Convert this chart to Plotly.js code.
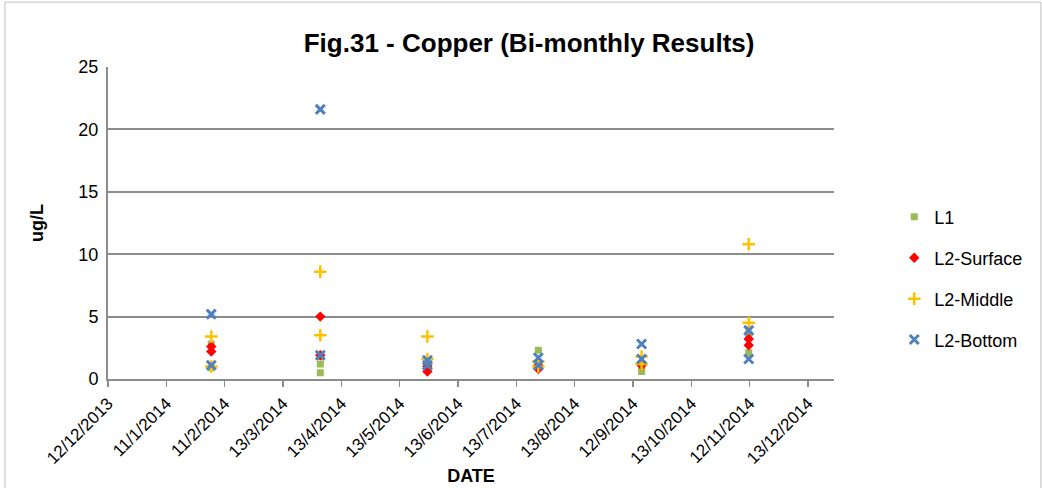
<!DOCTYPE html>
<html>
<head>
<meta charset="utf-8">
<script src="https://cdn.plot.ly/plotly-3.0.1.min.js"></script>
<style>html,body{margin:0;padding:0;background:#fff;}#chart{width:1042px;height:488px;}</style>
</head>
<body>
<div id="chart"></div>
<script>
// ---- data ----
const l1Dates = ['2014-02-04','2014-02-04','2014-04-02','2014-04-02','2014-04-02','2014-05-28','2014-07-25','2014-09-17','2014-09-17','2014-11-12','2014-11-12'];
const l1Values = [2.8, 0.9, 1.8, 1.2, 0.5, 1.2, 2.3, 1.0, 0.6, 3.6, 2.1];

const surfDates = ['2014-02-04','2014-02-04','2014-04-02','2014-04-02','2014-05-28','2014-05-28','2014-07-25','2014-07-25','2014-09-17','2014-09-17','2014-11-12','2014-11-12'];
const surfValues = [2.6, 2.2, 5.0, 1.9, 1.0, 0.6, 1.1, 0.8, 1.3, 1.1, 3.2, 2.7];

const midDates = ['2014-02-04','2014-02-04','2014-04-02','2014-04-02','2014-05-28','2014-05-28','2014-07-25','2014-07-25','2014-09-17','2014-09-17','2014-11-12','2014-11-12'];
const midValues = [3.4, 1.0, 8.6, 3.5, 3.4, 1.6, 1.4, 1.0, 1.8, 1.2, 10.8, 4.5];

const botDates = ['2014-02-04','2014-02-04','2014-04-02','2014-04-02','2014-05-28','2014-05-28','2014-07-25','2014-07-25','2014-09-17','2014-09-17','2014-11-12','2014-11-12'];
const botValues = [5.2, 1.1, 21.6, 1.9, 1.5, 1.1, 1.7, 1.1, 2.8, 1.6, 3.9, 1.6];

const seriesNames = ['L1', 'L2-Surface', 'L2-Middle', 'L2-Bottom'];

const tickDates = ['2013-12-12','2014-01-11 12:00','2014-02-11','2014-03-13 12:00','2014-04-13','2014-05-13 12:00','2014-06-13','2014-07-13 12:00','2014-08-13','2014-09-12 12:00','2014-10-13','2014-11-12 12:00','2014-12-13'];
const tickLabels = ['12/12/2013','11/1/2014','11/2/2014','13/3/2014','13/4/2014','13/5/2014','13/6/2014','13/7/2014','13/8/2014','12/9/2014','13/10/2014','12/11/2014','13/12/2014'];
const xRange = ['2013-12-12', '2014-12-26 14:00'];

// ---- chart ----
const FONT = 'Liberation Sans, Arial, sans-serif';
const traces = [
  {x: l1Dates, y: l1Values, name: seriesNames[0], legendgroup: 'a', type: 'scatter', mode: 'markers',
   marker: {symbol: 'square', size: 7, color: '#9BBB59'}},
  {x: surfDates, y: surfValues, name: seriesNames[1], legendgroup: 'b', type: 'scatter', mode: 'markers',
   marker: {symbol: 'diamond', size: 8, color: '#FF0000'}},
  {x: midDates, y: midValues, name: seriesNames[2], legendgroup: 'c', type: 'scatter', mode: 'markers',
   marker: {symbol: 'cross-thin-open', size: 9, color: '#FFC000', line: {color: '#FFC000', width: 2.5}}},
  {x: botDates, y: botValues, name: seriesNames[3], legendgroup: 'd', type: 'scatter', mode: 'markers',
   marker: {symbol: 'x-thin-open', size: 9, color: '#4F81BD', line: {color: '#4F81BD', width: 3}}}
];

const layout = {
  width: 1042, height: 488,
  margin: {l: 108, r: 208, t: 67, b: 109},
  paper_bgcolor: '#ffffff', plot_bgcolor: '#ffffff',
  font: {family: FONT, size: 18, color: '#000000'},
  title: {text: '<b>Fig.31 - Copper (Bi-monthly Results)</b>', font: {family: FONT, size: 26, color: '#000'},
          x: 0.58, xref: 'paper', xanchor: 'center', y: 0.912, yref: 'container', yanchor: 'middle'},
  xaxis: {
    type: 'date', range: xRange, tickmode: 'array', tickvals: tickDates, ticktext: tickLabels,
    tickangle: -45, tickfont: {family: FONT, size: 17, color: '#000'},
    showgrid: false, zeroline: false, showline: true, linecolor: '#8c8c8c', linewidth: 2,
    ticks: 'outside', ticklen: 6, tickcolor: '#8c8c8c', tickwidth: 1.5,
    title: {text: '<b>DATE</b>', font: {family: FONT, size: 18, color: '#000'}, standoff: 2},
    automargin: false, fixedrange: true
  },
  yaxis: {
    range: [0, 25], tickmode: 'linear', tick0: 0, dtick: 5,
    tickfont: {family: FONT, size: 18, color: '#000'},
    showgrid: true, gridcolor: '#8c8c8c', gridwidth: 2,
    zeroline: false, showline: true, linecolor: '#8c8c8c', linewidth: 2,
    ticks: '', ticklabelstandoff: 4,
    title: {text: '<b>ug/L</b>', font: {family: FONT, size: 18, color: '#000'}, standoff: 30},
    automargin: false, fixedrange: true
  },
  legend: {
    x: 1.083, xanchor: 'left', y: 0.578, yanchor: 'top',
    font: {family: FONT, size: 18, color: '#000'},
    traceorder: 'grouped', tracegroupgap: 14.5, itemwidth: 30,
    bgcolor: 'rgba(0,0,0,0)'
  },
  shapes: [
    {type: 'rect', xref: 'paper', yref: 'paper', x0: -0.142, x1: 1.285, y0: -0.355, y1: 1.208,
     line: {color: '#bfbfbf', width: 1}, fillcolor: 'rgba(0,0,0,0)', layer: 'below'}
  ],
  showlegend: true
};

Plotly.newPlot('chart', traces, layout, {displayModeBar: false, staticPlot: true});
</script>
</body>
</html>
